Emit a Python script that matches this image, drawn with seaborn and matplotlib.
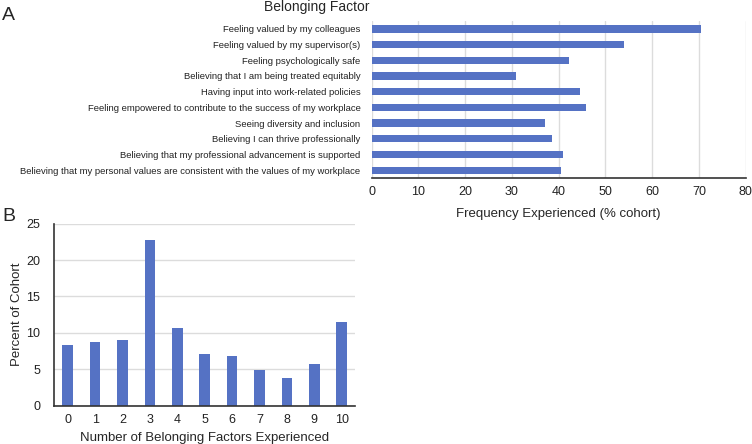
import matplotlib
matplotlib.use("Agg")
import matplotlib.pyplot as plt
import seaborn as sns
import pandas as pd

factors = [
    "Feeling valued by my colleagues",
    "Feeling valued by my supervisor(s)",
    "Feeling psychologically safe",
    "Believing that I am being treated equitably",
    "Having input into work-related policies",
    "Feeling empowered to contribute to the success of my workplace",
    "Seeing diversity and inclusion",
    "Believing I can thrive professionally",
    "Believing that my professional advancement is supported",
    "Believing that my personal values are consistent with the values of my workplace",
]
frequency = [70.4, 54.0, 42.3, 30.8, 44.5, 45.8, 37.1, 38.5, 40.9, 40.4]

counts = ["0", "1", "2", "3", "4", "5", "6", "7", "8", "9", "10"]
percent = [8.4, 8.7, 9.0, 22.7, 10.6, 7.1, 6.8, 4.9, 3.8, 5.7, 11.5]

sns.set_theme(style="white")
plt.rcParams['font.family'] = ['Liberation Sans', 'DejaVu Sans']

BLUE = "#5572c4"
GRID = "#dcdcdc"
AX = "#333333"

fig = plt.figure(figsize=(7.52, 4.44), dpi=100)

# Panel A
ax1 = fig.add_axes([0.4943, 0.599, 0.4973, 0.3536])
dfa = pd.DataFrame({"factor": factors, "freq": frequency})
sns.barplot(data=dfa, y="factor", x="freq", orient="h", color=BLUE,
            saturation=1, width=0.47, ax=ax1, order=factors, linewidth=0)
ax1.set_xlim(0, 80)
ax1.set_ylim(9.5, -0.5)
ax1.set_xticks(range(0, 81, 10))
ax1.xaxis.grid(True, color=GRID, linewidth=1)
ax1.set_axisbelow(True)
for s in ["top", "right", "left"]:
    ax1.spines[s].set_visible(False)
ax1.spines["bottom"].set_color(AX)
ax1.spines["bottom"].set_linewidth(1.2)
ax1.tick_params(axis="y", length=0, labelsize=6.8, pad=8, colors="#222222")
ax1.tick_params(axis="x", length=0, labelsize=9, pad=6, colors="#222222")
ax1.set_ylabel("")
ax1.set_xlabel("Frequency Experienced (% cohort)", fontsize=9.5, labelpad=7)

# Panel B
ax2 = fig.add_axes([0.0718, 0.0863, 0.4008, 0.410])
dfb = pd.DataFrame({"n": counts, "pct": percent})
sns.barplot(data=dfb, x="n", y="pct", color=BLUE, saturation=1, width=0.39,
            ax=ax2, order=counts, linewidth=0)
ax2.set_ylim(0, 25)
ax2.set_xlim(-0.5, 10.5)
ax2.set_yticks(range(0, 26, 5))
ax2.yaxis.grid(True, color=GRID, linewidth=1)
ax2.set_axisbelow(True)
for s in ["top", "right"]:
    ax2.spines[s].set_visible(False)
for s in ["left", "bottom"]:
    ax2.spines[s].set_color(AX)
    ax2.spines[s].set_linewidth(1.2)
ax2.tick_params(axis="both", length=0, labelsize=9, colors="#222222")
ax2.tick_params(axis="y", pad=10)
ax2.tick_params(axis="x", pad=6)
ax2.set_xlabel("Number of Belonging Factors Experienced", fontsize=9.5, labelpad=4)
ax2.set_ylabel("Percent of Cohort", fontsize=9.5)
ax2.yaxis.set_label_coords(-0.103, 0.5)

fig.text(317 / 752, 1 - 7 / 444, "Belonging Factor", ha="center", va="center", fontsize=10)
fig.text(2 / 752, 1 - 15 / 444, "A", ha="left", va="center", fontsize=14)
fig.text(2 / 752, 1 - 216 / 444, "B", ha="left", va="center", fontsize=14)

fig.savefig("out.png", dpi=100)
